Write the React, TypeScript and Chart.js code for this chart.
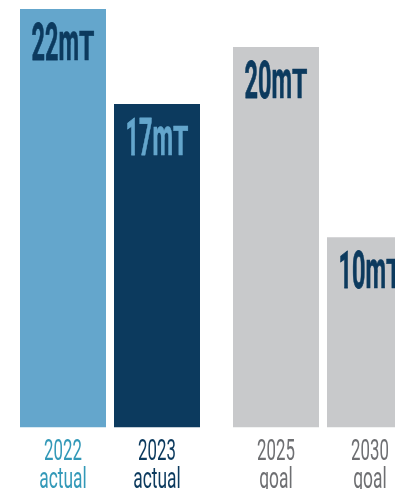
import React, { useEffect, useRef } from "react";
import { Chart, registerables } from "chart.js";

Chart.register(...registerables);

// ---- data ----
const years = ["2022", "2023", "2025", "2030"];
const kinds = ["actual", "actual", "goal", "goal"];
const values = [22, 17, 20, 10];
const unit = "mT";

// ---- styles ----
const barColors = ["#64a6cc", "#0c3a5e", "#c8c9cb", "#c8c9cb"];
const valueColors = ["#0c3a5e", "#64a6cc", "#0c3a5e", "#0c3a5e"];
const labelColors = ["#3399b8", "#0c3a5e", "#6e6f72", "#6e6f72"];

type Part = { text: string; font: string; sx: number; stroke?: number };

function drawParts(ctx: CanvasRenderingContext2D, parts: Part[], cx: number, baseline: number, color: string) {
  ctx.save();
  ctx.textAlign = "left";
  ctx.textBaseline = "alphabetic";
  const widths = parts.map((p) => {
    ctx.font = p.font;
    return ctx.measureText(p.text).width * p.sx;
  });
  const total = widths.reduce((a, b) => a + b, 0);
  let x0 = cx - total / 2;
  parts.forEach((p, k) => {
    ctx.save();
    ctx.font = p.font;
    ctx.fillStyle = color;
    ctx.strokeStyle = color;
    ctx.translate(x0, baseline);
    ctx.scale(p.sx, 1);
    ctx.fillText(p.text, 0, 0);
    if (p.stroke) {
      ctx.lineWidth = p.stroke;
      ctx.lineJoin = "round";
      ctx.strokeText(p.text, 0, 0);
    }
    ctx.restore();
    x0 += widths[k];
  });
  ctx.restore();
}

const labelPlugin = {
  id: "barLabels",
  afterDatasetsDraw(chart: any) {
    const ctx = chart.ctx as CanvasRenderingContext2D;
    const bottom = chart.chartArea.bottom;
    chart.data.datasets.forEach((ds: any, di: number) => {
      const meta = chart.getDatasetMeta(di);
      meta.data.forEach((bar: any, j: number) => {
        const i = ds.srcIndex[j];
        if (i === undefined) return;
        const { x, y } = bar.getProps(["x", "y"], true);
        drawParts(
          ctx,
          [
            { text: String(values[i]), font: "bold 51px Roboto", sx: 0.46, stroke: 0.8 },
            { text: unit[0], font: "bold 54px Roboto", sx: 0.44, stroke: 0.6 },
            { text: unit.slice(1), font: "bold 40px Roboto", sx: 0.62, stroke: 0.6 },
          ],
          x,
          y + 51,
          valueColors[i]
        );
        drawParts(ctx, [{ text: years[i], font: "29px Roboto", sx: 0.58 }], x, bottom + 32.5, labelColors[i]);
        drawParts(ctx, [{ text: kinds[i], font: "29px Roboto", sx: 0.6 }], x, bottom + 60.5, labelColors[i]);
      });
    });
  },
};

export default function App() {
  const ref = useRef<HTMLCanvasElement | null>(null);

  useEffect(() => {
    document.body.style.margin = "0";
    document.body.style.overflow = "hidden";
    document.documentElement.style.overflow = "hidden";
    if (!ref.current) return;

    // group bars by kind ("actual" / "goal"), one dataset per slot within a group
    const groups = Array.from(new Set(kinds));
    const idx = groups.map((g) => kinds.map((k, i) => (k === g ? i : -1)).filter((i) => i >= 0));
    const slots = Math.max(...idx.map((a) => a.length));
    const datasets = Array.from({ length: slots }, (_, s) => ({
      label: "slot" + s,
      data: idx.map((a) => (a[s] !== undefined ? values[a[s]] : null)),
      backgroundColor: idx.map((a) => (a[s] !== undefined ? barColors[a[s]] : "transparent")),
      srcIndex: idx.map((a) => a[s]),
      borderWidth: 0,
      categoryPercentage: 188 / 213,
      barPercentage: 86 / 94,
    }));

    const chart = new Chart(ref.current, {
      type: "bar",
      data: { labels: groups, datasets: datasets as any },
      options: {
        animation: false,
        responsive: false,
        devicePixelRatio: 1,
        layout: { padding: { top: 9, bottom: 72.5, left: 3.5, right: 0.5 } },
        plugins: { legend: { display: false }, tooltip: { enabled: false } },
        scales: {
          x: { type: "category", display: false, offset: true },
          y: { display: false, min: 0, max: 22 },
        },
      },
      plugins: [labelPlugin],
    });
    return () => chart.destroy();
  }, []);

  return (
    <div style={{ position: "relative", width: 430, height: 500 }}>
      <canvas ref={ref} width={430} height={500} />
    </div>
  );
}
